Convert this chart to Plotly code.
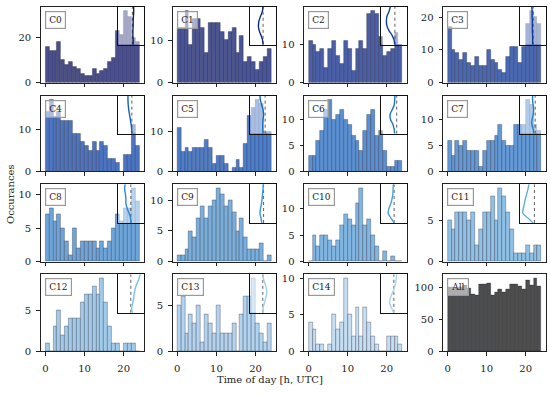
import plotly.graph_objects as go

# ---------------- data ----------------
hours = [h + 0.5 for h in range(24)]
labels = ["C0", "C1", "C2", "C3", "C4", "C5", "C6", "C7", "C8", "C9",
          "C10", "C11", "C12", "C13", "C14", "All"]

C0 = [16, 14, 14, 18, 10, 8, 9, 7, 6, 4, 3, 3, 6, 4, 5, 6, 9, 11, 23, 21, 32, 29, 20, 18]
C1 = [13, 13, 17, 9, 15, 15, 13, 7, 14, 14, 14, 12, 10, 12, 13, 7, 11, 5, 6, 5, 3, 5, 6, 8]
C2 = [11, 10, 8, 9, 4, 9, 11, 7, 5, 11, 9, 3, 9, 11, 9, 18, 19, 18, 12, 7, 8, 9, 13, 10]
C3 = [17, 10, 9, 7, 9, 6, 5, 8, 5, 5, 10, 7, 6, 4, 3, 8, 11, 11, 6, 11, 18, 22, 20, 18]
C4 = [14, 17, 13, 14, 12, 12, 12, 9, 9, 7, 6, 5, 7, 5, 7, 6, 3, 3, 2, 0, 4, 4, 11, 6]
C5 = [11, 5, 6, 5, 6, 6, 6, 8, 6, 2, 4, 4, 2, 0, 1, 3, 1, 7, 14, 16, 18, 17, 10, 10]
C6 = [3, 3, 6, 8, 12, 14, 10, 11, 12, 10, 9, 7, 6, 4, 8, 11, 12, 7, 8, 4, 1, 1, 2, 2]
C7 = [6, 3, 6, 5, 6, 4, 4, 4, 1, 4, 6, 6, 7, 9, 6, 5, 5, 9, 9, 9, 14, 13, 9, 8]
C8 = [7, 8, 6, 7, 5, 3, 1, 5, 2, 3, 3, 3, 3, 2, 3, 2, 3, 5, 7, 6, 8, 8, 11, 9]
C9 = [1, 1, 2, 5, 4, 7, 9, 7, 9, 10, 12, 11, 9, 10, 8, 5, 7, 4, 2, 2, 2, 3, 0, 1]
C10 = [0, 5, 3, 5, 5, 4, 3, 4, 7, 9, 8, 7, 11, 14, 7, 8, 5, 3, 0, 2, 0, 1, 0, 0]
C11 = [5, 4, 6, 6, 6, 5, 6, 2, 4, 6, 6, 8, 5, 9, 8, 6, 4, 1, 1, 1, 2, 1, 2, 2]
C12 = [1, 0, 3, 5, 2, 3, 4, 4, 4, 6, 7, 7, 8, 7, 9, 6, 3, 1, 1, 0, 1, 1, 1, 0]
C13 = [5, 6, 2, 4, 3, 5, 1, 4, 3, 2, 5, 2, 2, 2, 3, 0, 4, 6, 6, 8, 3, 2, 1, 3]
C14 = [4, 3, 1, 1, 0, 1, 5, 3, 4, 10, 5, 2, 6, 2, 6, 4, 2, 1, 0, 0, 2, 2, 2, 1]
ALL = [100, 100, 98, 100, 103, 98, 90, 88, 105, 105, 107, 88, 93, 97, 93, 97,
       105, 105, 102, 97, 112, 103, 115, 102]
series = [C0, C1, C2, C3, C4, C5, C6, C7, C8, C9, C10, C11, C12, C13, C14, ALL]

ytick_step = [20, 10, 10, 10, 10, 10, 5, 5, 5, 5, 5, 5, 5, 5, 5, 50]

# inset profiles (x position at evenly spaced heights, top -> bottom)
prof_levels = [1.0, 0.875, 0.75, 0.625, 0.5, 0.375, 0.25, 0.125, 0.0]
profiles = [
    [0.60, 0.60, 0.59, 0.58, 0.58, 0.57, 0.57, 0.58, 0.58],
    [0.50, 0.47, 0.40, 0.34, 0.32, 0.35, 0.42, 0.48, 0.50],
    [0.35, 0.30, 0.22, 0.20, 0.22, 0.30, 0.42, 0.50, 0.52],
    [0.45, 0.46, 0.46, 0.47, 0.47, 0.47, 0.48, 0.48, 0.48],
    [0.38, 0.38, 0.39, 0.41, 0.44, 0.47, 0.50, 0.52, 0.53],
    [0.38, 0.40, 0.45, 0.50, 0.52, 0.50, 0.49, 0.49, 0.50],
    [0.53, 0.52, 0.50, 0.42, 0.34, 0.36, 0.45, 0.50, 0.52],
    [0.48, 0.48, 0.50, 0.52, 0.50, 0.46, 0.45, 0.50, 0.52],
    [0.27, 0.25, 0.28, 0.30, 0.30, 0.35, 0.42, 0.48, 0.50],
    [0.50, 0.50, 0.48, 0.46, 0.44, 0.40, 0.38, 0.42, 0.45],
    [0.47, 0.46, 0.45, 0.42, 0.37, 0.30, 0.27, 0.38, 0.50],
    [0.34, 0.30, 0.25, 0.20, 0.16, 0.12, 0.10, 0.30, 0.50],
    [0.85, 0.80, 0.72, 0.66, 0.62, 0.60, 0.56, 0.52, 0.55],
    [0.50, 0.52, 0.58, 0.63, 0.64, 0.60, 0.55, 0.50, 0.50],
    [0.60, 0.58, 0.55, 0.50, 0.42, 0.35, 0.33, 0.40, 0.48],
]
ref_lines = [0.55, 0.50, 0.53, 0.50, 0.53, 0.58, 0.60, 0.58, 0.49, 0.52,
             0.50, 0.55, 0.49, 0.49, 0.49]

# ---------------- styles ----------------
bar_colors = ["#4a4f8c", "#4a5597", "#4a5fa8", "#4b69b3", "#4c74bf", "#4f7ec8",
              "#5a8fd1", "#6399d5", "#6ea5d9", "#79afdd", "#80b6e2", "#8fc1e6",
              "#a1cbe9", "#b3d4ee", "#c5def2", "#4d4d4d"]
line_colors = ["#0b1f5e", "#0a2a7a", "#0d3c96", "#0d3c96", "#1460b8", "#1466bd",
               "#1a73c9", "#1f7dcf", "#2a8ad6", "#3a96dc", "#4aa3e0", "#5cb0e6",
               "#78c0ec", "#9ccff0", "#a8d4f2"]

W, H = 550, 395
cols = [(40.7, 144.0), (172.5, 276.0), (304.0, 407.0), (443.0, 546.0)]
rows = [(5.0, 82.3), (95.7, 173.0), (186.0, 265.0), (278.0, 356.5)]
FONT = "DejaVu Serif"

fig = go.Figure()
layout = dict(width=W, height=H, margin=dict(l=0, r=0, t=0, b=0),
              paper_bgcolor="white", plot_bgcolor="rgba(0,0,0,0)",
              showlegend=False, bargap=0, font=dict(family=FONT, size=9.5, color="#222"))
annotations = []
shapes = []

for i, vals in enumerate(series):
    r, c = divmod(i, 4)
    x0, x1 = cols[c]
    y0, y1 = rows[r]
    n = i + 1
    xa = "xaxis" if n == 1 else f"xaxis{n}"
    ya = "yaxis" if n == 1 else f"yaxis{n}"
    xr = "x" if n == 1 else f"x{n}"
    yr = "y" if n == 1 else f"y{n}"
    fig.add_trace(go.Bar(x=hours, y=vals, width=1.0, xaxis=xr, yaxis=yr,
                         marker=dict(color=bar_colors[i],
                                     line=dict(color="rgba(20,20,40,0.5)", width=0.6))))
    ymax = max(vals) * 1.05
    layout[xa] = dict(domain=[x0 / W, x1 / W], anchor=yr, range=[-1.2, 25.2],
                      tickvals=[0, 10, 20], showticklabels=(r == 3), ticks="outside",
                      ticklen=3.5, tickwidth=0.8, tickcolor="#222", ticklabelstandoff=4,
                      showline=True, mirror=True, linecolor="#222", linewidth=1,
                      showgrid=False, zeroline=False,
                      tickfont=dict(family=FONT, size=10, color="#222"))
    layout[ya] = dict(domain=[1 - y1 / H, 1 - y0 / H], anchor=xr, range=[0, ymax],
                      dtick=ytick_step[i], tick0=0, ticks="outside", ticklen=3.5,
                      tickwidth=0.8, tickcolor="#222", ticklabelstandoff=3,
                      showline=True, mirror=True, linecolor="#222", linewidth=1,
                      showgrid=False, zeroline=False,
                      tickfont=dict(family=FONT, size=10, color="#222"))
    annotations.append(dict(xref="paper", yref="paper", x=(x0 + 4) / W, y=1 - (y0 + 4) / H,
                            xanchor="left", yanchor="top", text=labels[i], showarrow=False,
                            font=dict(family=FONT, size=9, color="#222"),
                            bgcolor="rgba(255,255,255,0.55)", bordercolor="#999",
                            borderwidth=1.2, borderpad=3))

# insets
for j, prof in enumerate(profiles):
    r, c = divmod(j, 4)
    x0, x1 = cols[c]
    y0, y1 = rows[r]
    n = 17 + j
    xa, ya, xr, yr = f"xaxis{n}", f"yaxis{n}", f"x{n}", f"y{n}"
    ix0 = x1 - 0.25 * (x1 - x0)
    iy1 = y0 + 0.5 * (y1 - y0)
    layout[xa] = dict(domain=[ix0 / W, x1 / W], anchor=yr, range=[0, 1],
                      showticklabels=False, ticks="", showgrid=False, zeroline=False,
                      showline=True, mirror=True, linecolor="#111", linewidth=1.2)
    layout[ya] = dict(domain=[1 - iy1 / H, 1 - y0 / H], anchor=xr, range=[0, 1],
                      showticklabels=False, ticks="", showgrid=False, zeroline=False,
                      showline=True, mirror=True, linecolor="#111", linewidth=1.2)
    shapes.append(dict(type="rect", xref=xr, yref=yr, x0=0, x1=1, y0=0, y1=1,
                       fillcolor="rgba(255,255,255,0.5)", line=dict(width=0), layer="below"))
    fig.add_trace(go.Scatter(x=[ref_lines[j], ref_lines[j]], y=[0, 1], mode="lines",
                             xaxis=xr, yaxis=yr,
                             line=dict(color="#333", width=0.8, dash="dot")))
    fig.add_trace(go.Scatter(x=prof, y=prof_levels, mode="lines", xaxis=xr, yaxis=yr,
                             line=dict(color=line_colors[j], width=1.4, shape="spline")))

annotations.append(dict(xref="paper", yref="paper", x=270 / W, y=1 - 385 / H,
                        xanchor="center", yanchor="middle",
                        text="Time of day [h, UTC]", showarrow=False,
                        font=dict(family=FONT, size=10, color="#222")))
annotations.append(dict(xref="paper", yref="paper", x=10 / W, y=1 - 196 / H,
                        xanchor="center", yanchor="middle",
                        text="Occurances", textangle=-90, showarrow=False,
                        font=dict(family=FONT, size=10, color="#222")))
layout["annotations"] = annotations
layout["shapes"] = shapes
fig.update_layout(**layout)
fig.write_html("out.html", config={"displayModeBar": False},
               post_script="document.body.style.margin='0';document.body.style.overflow='hidden';")
